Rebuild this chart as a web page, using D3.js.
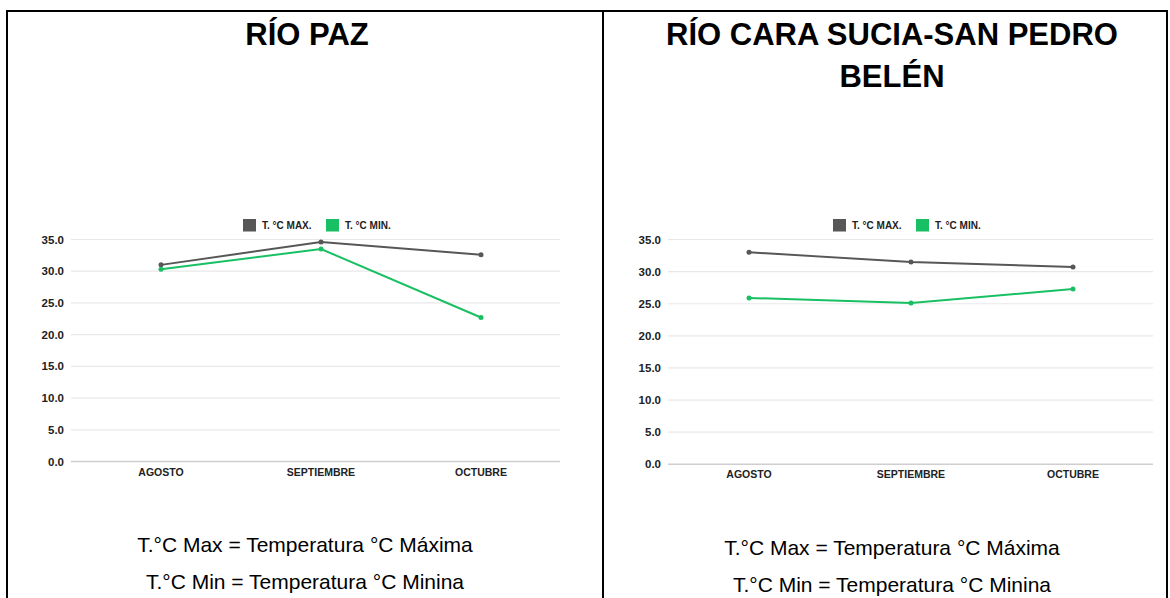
<!DOCTYPE html>
<html>
<head>
<meta charset="utf-8">
<script src="https://cdn.jsdelivr.net/npm/d3@7"></script>
<style>
  body{margin:0;background:#fff;}
  svg{display:block;font-family:"Liberation Sans",Arial,sans-serif;}
</style>
</head>
<body>
<div id="chart"></div>
<script>
var months = ['AGOSTO','SEPTIEMBRE','OCTUBRE'];
var yTicks = [0,5,10,15,20,25,30,35];
var seriesNames = ['T. °C MAX.','T. °C MIN.'];
var seriesColors = ['#575757','#19c063'];

var pazTitle = ['RÍO PAZ'];
var pazMax = [31.0,34.6,32.6];
var pazMin = [30.3,33.5,22.7];

var caraTitle = ['RÍO CARA SUCIA-SAN PEDRO','BELÉN'];
var caraMax = [33.0,31.5,30.7];
var caraMin = [25.9,25.1,27.3];

var notes = ['T.°C Max = Temperatura °C Máxima','T.°C Min = Temperatura °C Minina'];

var W = 1170, H = 598;
var svg = d3.select('#chart').append('svg').attr('width',W).attr('height',H);

// frame
svg.append('path')
  .attr('d','M7,'+H+'V11H1167V'+H+'M603,11V'+H)
  .attr('fill','none').attr('stroke','#000').attr('stroke-width',2);

function drawPanel(cfg){
  var g = svg.append('g');
  var x = d3.scalePoint().domain(months).range([cfg.x0,cfg.x1]);
  var y = d3.scaleLinear().domain([0,35]).range([cfg.y0,cfg.y35]);

  g.selectAll('.title').data(cfg.title).enter().append('text')
    .attr('x',cfg.cx).attr('y',function(d,i){return 45+i*42})
    .attr('text-anchor','middle').attr('font-size',31).attr('font-weight','bold')
    .text(function(d){return d});

  // grid
  g.selectAll('.grid').data(yTicks).enter().append('line')
    .attr('x1',cfg.gx0).attr('x2',cfg.gx1)
    .attr('y1',function(d){return y(d)}).attr('y2',function(d){return y(d)})
    .attr('stroke',function(d){return d==0?'#cfcfcf':'#e8e8e8'})
    .attr('stroke-width',function(d){return d==0?1.5:1.2});

  g.selectAll('.ylab').data(yTicks).enter().append('text')
    .attr('x',cfg.gx0-7).attr('y',function(d){return y(d)+4})
    .attr('text-anchor','end').attr('font-size',11.5).attr('font-weight','bold').attr('fill','#222')
    .text(function(d){return d3.format('.1f')(d)});

  g.selectAll('.xlab').data(months).enter().append('text')
    .attr('x',function(d){return x(d)}).attr('y',cfg.y0+14)
    .attr('text-anchor','middle').attr('font-size',10.5).attr('font-weight','bold').attr('fill','#222')
    .text(function(d){return d});

  var line = d3.line().x(function(d,i){return x(months[i])}).y(function(d){return y(d)});
  [cfg.max,cfg.min].forEach(function(s,k){
    g.append('path').attr('d',line(s)).attr('fill','none')
      .attr('stroke',seriesColors[k]).attr('stroke-width',2);
    g.selectAll('.dot'+k).data(s).enter().append('circle')
      .attr('cx',function(d,i){return x(months[i])}).attr('cy',function(d){return y(d)})
      .attr('r',2.5).attr('fill',seriesColors[k]);
  });

  // legend
  var lg = g.append('g').attr('transform','translate('+cfg.lx+',219)');
  var offs = [0,83];
  seriesNames.forEach(function(n,k){
    lg.append('rect').attr('x',offs[k]).attr('y',0).attr('width',13).attr('height',12.5)
      .attr('fill',seriesColors[k]);
    lg.append('text').attr('x',offs[k]+19).attr('y',10).attr('font-size',10)
      .attr('font-weight','bold').attr('fill','#222').text(n);
  });

  g.selectAll('.note').data(notes).enter().append('text')
    .attr('x',cfg.nx).attr('y',function(d,i){return cfg.ny+i*37})
    .attr('text-anchor','middle').attr('font-size',21).attr('fill','#000')
    .text(function(d){return d});
}

drawPanel({title:pazTitle,max:pazMax,min:pazMin,cx:307,x0:161,x1:481,gx0:71,gx1:560,
  y0:461.5,y35:239.5,lx:243,nx:305,ny:552});
drawPanel({title:caraTitle,max:caraMax,min:caraMin,cx:892,x0:749,x1:1073,gx0:668,gx1:1153,
  y0:464.3,y35:239.5,lx:833,nx:892,ny:555});
</script>
</body>
</html>
